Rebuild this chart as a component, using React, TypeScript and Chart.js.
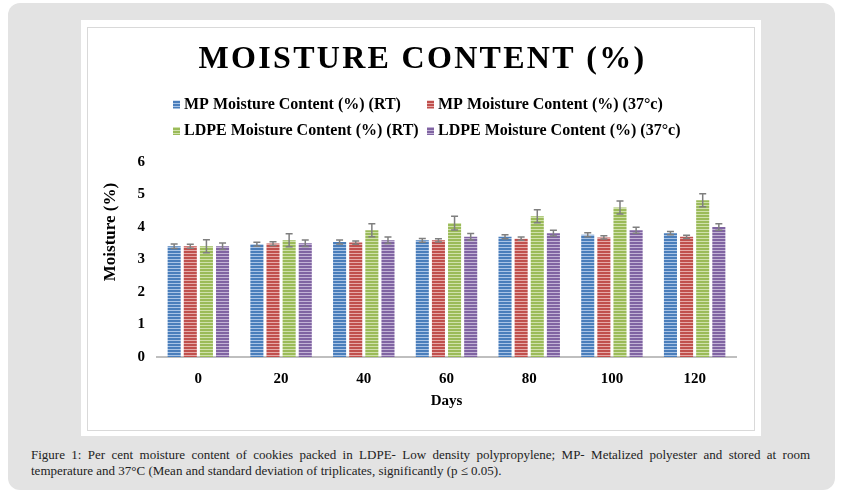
import { useEffect, useRef } from 'react';
import { Chart, registerables } from 'chart.js';

Chart.register(...registerables);

const days = ['0', '20', '40', '60', '80', '100', '120'];

const mpRT = [3.41, 3.47, 3.54, 3.59, 3.7, 3.76, 3.81];
const mp37 = [3.41, 3.49, 3.52, 3.59, 3.64, 3.68, 3.7];
const ldpeRT = [3.41, 3.59, 3.9, 4.12, 4.33, 4.6, 4.82];
const ldpe37 = [3.41, 3.5, 3.59, 3.7, 3.81, 3.9, 4.0];

const mpRTErr = [0.07, 0.06, 0.06, 0.06, 0.06, 0.06, 0.05];
const mp37Err = [0.06, 0.06, 0.05, 0.05, 0.05, 0.05, 0.05];
const ldpeRTErr = [0.2, 0.2, 0.2, 0.21, 0.2, 0.2, 0.2];
const ldpe37Err = [0.1, 0.1, 0.1, 0.1, 0.09, 0.09, 0.1];

const yTicks = [0, 1, 2, 3, 4, 5, 6];

const serif = '"Liberation Serif", "Times New Roman", serif';

function stripes(ctx: CanvasRenderingContext2D, color: string, light: string) {
  const c = document.createElement('canvas');
  c.width = 4;
  c.height = 3;
  const g = c.getContext('2d')!;
  g.fillStyle = light;
  g.fillRect(0, 0, 4, 3);
  g.fillStyle = color;
  g.fillRect(0, 0, 4, 2);
  return ctx.createPattern(c, 'repeat')!;
}

// title and y-axis caption, drawn by hand to sit where the original has them
const textPlugin = {
  id: 'texts',
  afterDraw(chart: any) {
    const { ctx } = chart;
    ctx.save();
    ctx.font = `bold 32px ${serif}`;
    (ctx as any).letterSpacing = '2.3px';
    ctx.fillStyle = '#000';
    ctx.textAlign = 'center';
    ctx.textBaseline = 'middle';
    ctx.fillText('MOISTURE CONTENT (%)', chart.width / 2 + 1, 31);
    (ctx as any).letterSpacing = '0px';

    ctx.font = `bold 17px ${serif}`;
    ctx.translate(22, 203);
    ctx.rotate(-Math.PI / 2);
    ctx.fillText('Moisture (%)', 0, 0);
    ctx.restore();
  },
};

const legendPlugin = {
  id: 'gridLegend',
  afterDraw(chart: any) {
    const { ctx } = chart;
    const cols = [84, 338];
    const rows = [75.5, 102];
    ctx.save();
    ctx.font = `bold 16px ${serif}`;
    ctx.textBaseline = 'middle';
    chart.data.datasets.forEach((ds: any, i: number) => {
      const x = cols[i % 2];
      const y = rows[Math.floor(i / 2)];
      ctx.fillStyle = ds.backgroundColor;
      ctx.fillRect(x, y - 4, 7, 8);
      ctx.fillStyle = '#000';
      ctx.fillText(ds.label, x + 11, y);
    });
    ctx.restore();
  },
};

const errorBars = {
  id: 'errorBars',
  afterDatasetsDraw(chart: any) {
    const { ctx } = chart;
    const yScale = chart.scales.y;
    ctx.save();
    ctx.strokeStyle = '#7f7f7f';
    ctx.lineWidth = 1.5;
    chart.data.datasets.forEach((ds: any, i: number) => {
      const meta = chart.getDatasetMeta(i);
      meta.data.forEach((bar: any, j: number) => {
        const v = ds.data[j];
        const e = ds.errors[j];
        const top = yScale.getPixelForValue(v + e);
        const bot = yScale.getPixelForValue(v - e);
        ctx.beginPath();
        ctx.moveTo(bar.x, top);
        ctx.lineTo(bar.x, bot);
        ctx.moveTo(bar.x - 3.5, top);
        ctx.lineTo(bar.x + 3.5, top);
        ctx.moveTo(bar.x - 3.5, bot);
        ctx.lineTo(bar.x + 3.5, bot);
        ctx.stroke();
      });
    });
    ctx.restore();
  },
};

function MoistureChart() {
  const canvasRef = useRef<HTMLCanvasElement | null>(null);

  useEffect(() => {
    const ctx = canvasRef.current?.getContext('2d');
    if (!ctx) return;

    const chart = new Chart(ctx, {
      type: 'bar',
      data: {
        labels: days,
        datasets: [
          { label: 'MP Moisture Content (%) (RT)', data: mpRT, errors: mpRTErr, backgroundColor: stripes(ctx, '#4a7ebb', '#a9c4e6') },
          { label: 'MP Moisture Content (%) (37°c)', data: mp37, errors: mp37Err, backgroundColor: stripes(ctx, '#c0504d', '#e6aaa8') },
          { label: 'LDPE Moisture Content (%) (RT)', data: ldpeRT, errors: ldpeRTErr, backgroundColor: stripes(ctx, '#9bbb59', '#d0e1ac') },
          { label: 'LDPE Moisture Content (%) (37°c)', data: ldpe37, errors: ldpe37Err, backgroundColor: stripes(ctx, '#8064a2', '#c3b3d6') },
        ] as any,
      },
      options: {
        animation: false,
        responsive: false,
        layout: { padding: { top: 133, right: 18, bottom: 13, left: 0 } },
        datasets: { bar: { categoryPercentage: 0.78, barPercentage: 0.81 } },
        plugins: {
          legend: { display: false },
          title: { display: false },
          tooltip: { enabled: false },
        },
        scales: {
          x: {
            grid: { display: false, drawTicks: false },
            border: { display: true, color: '#bfbfbf', width: 2 },
            ticks: { color: '#000', padding: 13, font: { family: serif, size: 15, weight: 'bold' } },
            title: {
              display: true,
              text: 'Days',
              color: '#000',
              padding: { top: 0, bottom: 7 },
              font: { family: serif, size: 15, weight: 'bold' },
            },
            afterFit: (s: any) => {
              s.height = 60;
            },
          },
          y: {
            min: 0,
            max: 6,
            afterBuildTicks: (s: any) => {
              s.ticks = yTicks.map((v) => ({ value: v }));
            },
            grid: { display: false, drawTicks: false },
            border: { display: false },
            ticks: { color: '#000', padding: 12, font: { family: serif, size: 15, weight: 'bold' } },
            afterFit: (s: any) => {
              s.width = 68;
            },
          },
        },
      },
      plugins: [errorBars, textPlugin, legendPlugin],
    });

    return () => {
      chart.destroy();
    };
  }, []);

  return <canvas ref={canvasRef} width={665} height={401} style={{ position: 'absolute', left: 89, top: 29 }} />;
}

export default function App() {
  return (
    <div style={{ position: 'fixed', left: 0, top: 0, width: 843, height: 499, background: '#fff', overflow: 'hidden' }}>
      <div style={{ position: 'absolute', left: 8, top: 3, width: 827, height: 487, background: '#e3e3e3', borderRadius: 12 }} />
      <div style={{ position: 'absolute', left: 81, top: 20, width: 680, height: 416, background: '#fff' }} />
      <div style={{ position: 'absolute', left: 87, top: 27, width: 666, height: 402, border: '1.5px solid #d9d9d9' }} />
      <MoistureChart />
      <div
        style={{
          position: 'absolute',
          left: 31,
          top: 447,
          width: 779,
          fontFamily: serif,
          fontSize: 13,
          lineHeight: '16px',
          color: '#222',
          textAlign: 'justify',
        }}
      >
        Figure 1: Per cent moisture content of cookies packed in LDPE- Low density polypropylene; MP- Metalized polyester and
        stored at room temperature and 37°C (Mean and standard deviation of triplicates, significantly (p ≤ 0.05).
      </div>
    </div>
  );
}
